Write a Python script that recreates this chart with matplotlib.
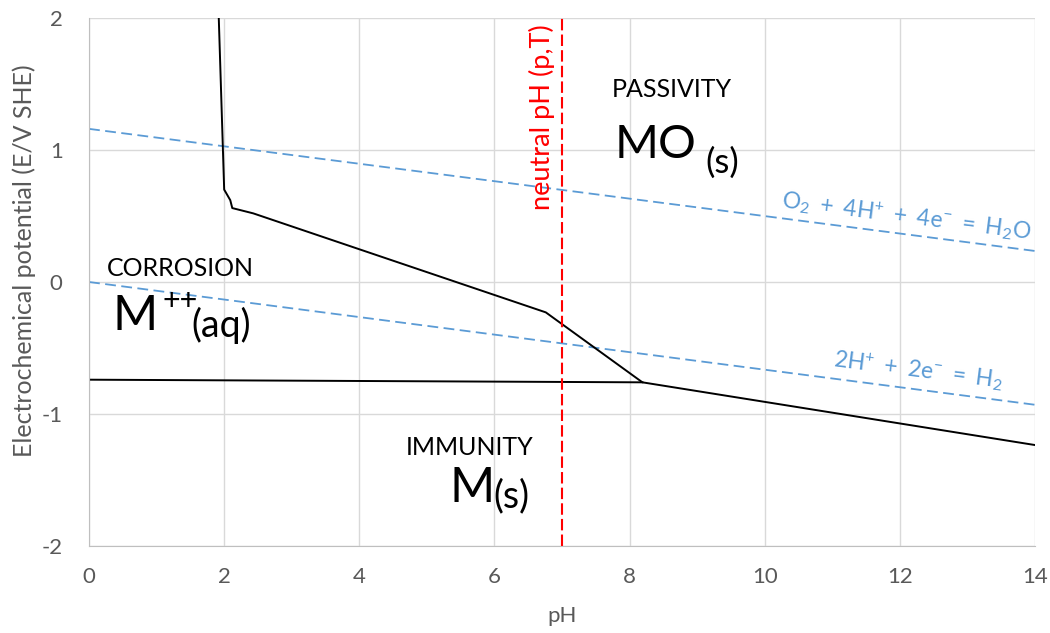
import matplotlib.pyplot as plt

plt.rcParams['font.family'] = ['Lato', 'DejaVu Sans']
plt.rcParams['mathtext.fontset'] = 'custom'
plt.rcParams['mathtext.rm'] = 'Lato'
plt.rcParams['mathtext.it'] = 'Lato'
plt.rcParams['mathtext.default'] = 'rm'
plt.rcParams['axes.unicode_minus'] = False

# Pourbaix boundaries (pH, E in V SHE)
boundary_ph = [1.92, 2.0, 2.09, 2.12, 2.43, 6.76, 8.19, 14.0]
boundary_e = [2.0, 0.7, 0.62, 0.56, 0.52, -0.23, -0.76, -1.235]

immunity_ph = [0.0, 8.19]
immunity_e = [-0.74, -0.76]

# water stability lines
o2_ph = [0.0, 14.0]
o2_e = [1.16, 0.235]
h2_ph = [0.0, 14.0]
h2_e = [0.0, -0.93]

neutral_ph = 7.0

x_ticks = [0, 2, 4, 6, 8, 10, 12, 14]
y_ticks = [-2, -1, 0, 1, 2]

grey = '#595959'
blue = '#5b9bd5'
red = '#ff0000'

fig = plt.figure(figsize=(10.5, 6.33), dpi=100)
ax = fig.add_axes([0.0848, 0.1374, 0.9009, 0.8342])

ax.plot(o2_ph, o2_e, color=blue, lw=1.3, dashes=(6, 3))
ax.plot(h2_ph, h2_e, color=blue, lw=1.3, dashes=(6, 3))
ax.plot(boundary_ph, boundary_e, color='black', lw=1.4)
ax.plot(immunity_ph, immunity_e, color='black', lw=1.4)
ax.axvline(neutral_ph, color=red, lw=1.5, dashes=(5.5, 2))

ax.set_xlim(0, 14)
ax.set_ylim(-2, 2)
ax.set_xticks(x_ticks)
ax.set_yticks(y_ticks)
ax.grid(True, color='#d9d9d9', lw=1)
ax.set_axisbelow(True)
for s in ['top', 'right']:
    ax.spines[s].set_visible(False)
for s in ['left', 'bottom']:
    ax.spines[s].set_color('#bfbfbf')
ax.tick_params(length=0, labelsize=16, colors=grey)
ax.tick_params(axis='x', pad=15)
ax.tick_params(axis='y', pad=19)
ax.set_xlabel('pH', fontsize=16, color=grey, labelpad=14)
ax.set_ylabel('Electrochemical potential (E/V SHE)', fontsize=18, color=grey)
ax.yaxis.set_label_coords(-0.056, 0.54)

# region labels
ax.text(8.63, 1.455, 'PASSIVITY', fontsize=18, ha='center', va='center')
ax.text(7.78, 0.94, 'MO', fontsize=34, ha='left', va='baseline')
ax.text(9.12, 0.83, '(s)', fontsize=25, ha='left', va='baseline')

ax.text(0.27, 0.106, 'CORROSION', fontsize=18, ha='left', va='center')
ax.text(0.34, -0.364, 'M', fontsize=35, ha='left', va='baseline')
ax.text(1.08, -0.21, '++', fontsize=22, ha='left', va='baseline')
ax.text(1.52, -0.417, '(aq)', fontsize=27, ha='left', va='baseline')

ax.text(5.64, -1.25, 'IMMUNITY', fontsize=18, ha='center', va='center')
ax.text(5.34, -1.667, 'M', fontsize=35, ha='left', va='baseline')
ax.text(5.98, -1.71, '(s)', fontsize=27, ha='left', va='baseline')

ax.text(6.70, 1.25, 'neutral pH (p,T)', fontsize=19.5, color=red, rotation=90,
        ha='center', va='center')

ax.text(12.1, 0.5, r'$O_2\ +\ 4H^{+}\ +\ 4e^{-}\ =\ H_2O$', fontsize=16.5, color=blue,
        rotation=-7.3, rotation_mode='anchor', ha='center', va='center')
ax.text(12.27, -0.667, r'$2H^{+}\ +\ 2e^{-}\ =\ H_2$', fontsize=16.5, color=blue,
        rotation=-7.3, rotation_mode='anchor', ha='center', va='center')

fig.savefig('out.png', dpi=100)
